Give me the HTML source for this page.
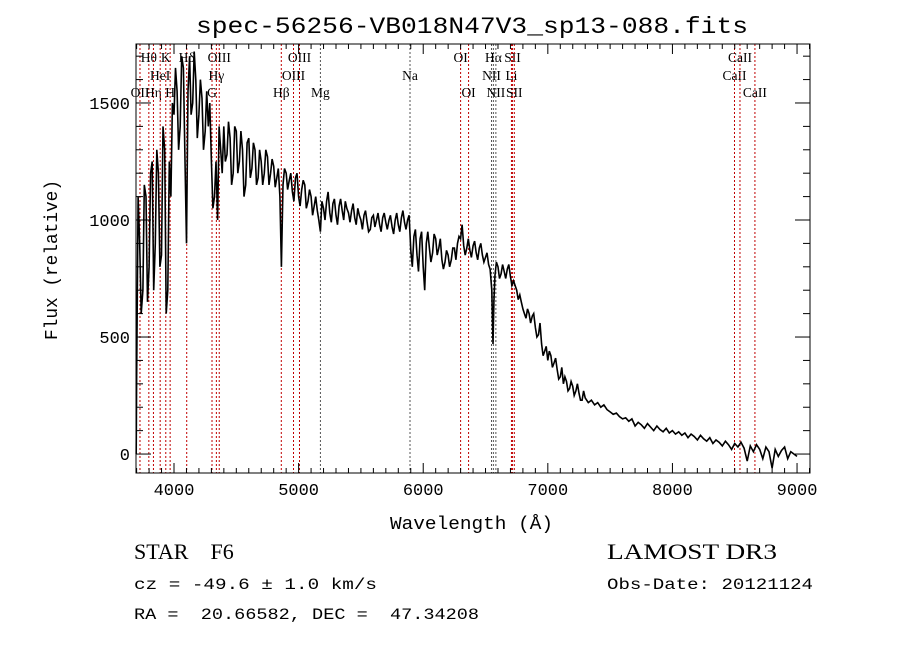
<!DOCTYPE html>
<html><head><meta charset="utf-8"><style>
body{margin:0;background:#fff;}
svg{display:block;}
text{font-family:"Liberation Mono",monospace;fill:#000;white-space:pre;}
.ser{font-family:"Liberation Serif",serif;}
</style></head><body>
<svg id="chart" width="900" height="649" viewBox="0 0 900 649" xmlns="http://www.w3.org/2000/svg" xml:space="preserve">
<rect width="900" height="649" fill="#fff"/>
<text x="196" y="33" font-size="23" textLength="552" lengthAdjust="spacingAndGlyphs">spec-56256-VB018N47V3_sp13-088.fits</text>
<g id="lines"></g>
<g id="series"></g>
<g id="axes"></g>
<text x="390" y="529" font-size="18" textLength="163" lengthAdjust="spacingAndGlyphs">Wavelength (Å)</text>
<text x="0" y="0" transform="translate(57,340) rotate(-90)" font-size="18" textLength="160" lengthAdjust="spacingAndGlyphs">Flux (relative)</text>
<text class="ser" x="134" y="559" font-size="22">STAR    F6</text>
<text x="134" y="589" font-size="16" textLength="243" lengthAdjust="spacingAndGlyphs">cz = -49.6 ± 1.0 km/s</text>
<text x="134" y="619" font-size="16" textLength="345" lengthAdjust="spacingAndGlyphs">RA =  20.66582, DEC =  47.34208</text>
<text class="ser" x="607" y="559" font-size="22" textLength="170" lengthAdjust="spacingAndGlyphs">LAMOST DR3</text>
<text x="607" y="589" font-size="16" textLength="206" lengthAdjust="spacingAndGlyphs">Obs-Date: 20121124</text>
</svg>
<script>
const wavelengths=[3697,3700,3712,3725,3737,3750,3762,3775,3787,3800,3812,3825,3837,3850,3862,3875,3887,3900,3912,3925,3937,3950,3962,3975,3987,4000,4012,4025,4037,4050,4062,4075,4087,4100,4112,4125,4137,4150,4162,4175,4187,4200,4212,4225,4237,4250,4262,4275,4287,4300,4312,4325,4337,4350,4362,4375,4387,4400,4412,4425,4437,4450,4462,4475,4487,4500,4512,4525,4537,4550,4562,4575,4587,4600,4612,4625,4637,4650,4662,4675,4687,4700,4712,4725,4737,4750,4762,4775,4787,4800,4812,4825,4837,4850,4862,4875,4887,4900,4912,4925,4937,4950,4962,4975,4987,5000,5012,5025,5037,5050,5062,5075,5087,5100,5112,5125,5137,5150,5162,5175,5187,5200,5212,5225,5237,5250,5262,5275,5287,5300,5312,5325,5337,5350,5362,5375,5387,5400,5412,5425,5437,5450,5462,5475,5487,5500,5512,5525,5537,5550,5562,5575,5587,5600,5612,5625,5637,5650,5662,5675,5687,5700,5712,5725,5737,5750,5762,5775,5787,5800,5812,5825,5837,5850,5862,5875,5887,5900,5912,5925,5937,5950,5962,5975,5987,6000,6012,6025,6037,6050,6062,6075,6087,6100,6112,6125,6137,6150,6162,6175,6187,6200,6212,6225,6237,6250,6262,6275,6287,6300,6312,6325,6337,6350,6362,6375,6387,6400,6412,6425,6437,6450,6462,6475,6487,6500,6512,6525,6537,6550,6560,6567,6575,6587,6600,6612,6625,6637,6650,6662,6675,6687,6700,6712,6725,6737,6750,6762,6775,6787,6800,6812,6825,6837,6850,6862,6875,6887,6900,6912,6925,6937,6950,6962,6975,6987,7000,7012,7025,7037,7050,7062,7075,7087,7100,7112,7125,7137,7150,7162,7175,7187,7200,7212,7225,7237,7250,7262,7275,7287,7300,7325,7350,7375,7400,7425,7450,7475,7500,7525,7550,7575,7600,7625,7650,7675,7700,7725,7750,7775,7800,7825,7850,7875,7900,7925,7950,7975,8000,8025,8050,8075,8100,8125,8150,8175,8200,8225,8250,8275,8300,8325,8350,8375,8400,8425,8450,8475,8500,8525,8550,8575,8600,8625,8650,8675,8700,8725,8750,8775,8800,8825,8850,8875,8900,8925,8950,8975,9000];
const flux=[0,300,1100,900,600,700,1150,1100,650,800,1200,1250,700,900,1300,1200,800,850,1400,1300,600,700,1250,1100,1500,1450,1650,1550,1300,1400,1700,1650,1300,900,1550,1700,1450,1500,1720,1600,1350,1450,1600,1520,1300,1380,1550,1400,1500,1250,1050,1100,1250,1000,1400,1300,1200,1400,1250,1280,1420,1350,1150,1200,1400,1380,1200,1250,1380,1300,1100,1150,1330,1350,1180,1220,1330,1300,1150,1180,1300,1250,1150,1200,1300,1270,1150,1200,1260,1230,1140,1180,1220,1100,800,1150,1220,1200,1130,1170,1200,1120,1080,1180,1200,1100,1060,1130,1170,1150,1050,1080,1130,1100,1020,1060,1100,1040,1000,950,1080,1050,1000,1080,1120,1030,990,1070,1090,1020,980,1060,1090,1040,1000,1080,1050,1030,990,1040,1070,1010,980,1050,1020,1000,960,1020,1040,990,950,960,1010,1020,970,1000,1030,980,950,1010,1030,990,960,1000,1020,970,940,1000,1030,980,950,1010,1040,990,960,1000,1020,870,800,930,960,850,780,920,950,800,700,900,950,880,820,860,940,920,850,880,920,830,790,820,870,850,800,830,880,880,830,900,930,920,980,890,850,880,920,870,840,890,910,860,830,880,900,850,820,840,860,810,790,700,470,650,760,820,800,750,770,810,780,750,790,810,760,720,740,720,700,660,680,650,620,600,580,620,600,560,590,600,540,500,510,560,470,420,440,460,400,440,420,370,390,410,360,320,330,370,300,330,310,270,280,310,290,250,270,300,260,230,230,270,240,220,230,210,220,200,210,190,180,170,175,160,150,155,140,150,120,135,125,110,130,115,100,120,105,95,110,90,100,85,95,80,90,70,85,75,60,80,65,55,70,45,60,50,35,55,40,20,45,30,50,25,-30,35,10,40,20,-20,30,10,-60,20,-10,15,30,-20,10,0,-10,5];
const lineWaves=[3727,3798,3835,3889,3934,3969,4102,4305,4340,4363,4861,4959,5007,5175,5894,6300,6364,6548,6563,6583,6708,6716,6731,8498,8542,8662];
const lineLabels=["OII","Hθ","Hη","HeI","K","H","Hδ","G","Hγ","OIII","Hβ","OIII","OIII","Mg","Na","OI","OI","NII","Hα","NII","Li","SII","SII","CaII","CaII","CaII"];
const lineRows=[3,1,3,2,1,3,1,3,2,1,3,2,1,3,2,1,3,2,1,3,2,1,3,2,1,3];
const xTicks=[4000,5000,6000,7000,8000,9000];
const yTicks=[0,500,1000,1500];
const X0=136,X1=810,Y0=44,Y1=473;
const WMIN=3695,WMAX=9104,FMIN=-81,FMAX=1752;
const xs=w=>X0+(w-WMIN)/(WMAX-WMIN)*(X1-X0);
const ys=f=>Y1-(f-FMIN)/(FMAX-FMIN)*(Y1-Y0);
const NS="http://www.w3.org/2000/svg";
function mk(tag,attrs,parent){const e=document.createElementNS(NS,tag);for(const k in attrs)e.setAttribute(k,attrs[k]);parent.appendChild(e);return e;}
const gL=document.getElementById('lines'),gS=document.getElementById('series'),gA=document.getElementById('axes');
const blackSet=[5175,5894,6548,6563,6583];
lineWaves.forEach((w,i)=>{
  const x=xs(w);
  const l=mk('line',{x1:x,x2:x,y1:Y0,y2:Y1,stroke:blackSet.includes(w)?'#555':'#c00000','stroke-width':1,'stroke-dasharray':'2,2'},gL);
  
  
  const t=mk('text',{x:x,y:[0,62,80,97][lineRows[i]],'text-anchor':'middle','font-size':13.5,class:'ser'},gL);
  t.textContent=lineLabels[i];
  
  
});
const pts=wavelengths.map((w,i)=>xs(w).toFixed(1)+','+ys(flux[i]).toFixed(1)).join(' ');
const pl=mk('polyline',{points:pts,fill:'none',stroke:'#000','stroke-width':1.6,'stroke-linejoin':'miter'},gS);


const fr=mk('rect',{x:X0,y:Y0,width:X1-X0,height:Y1-Y0,fill:'none',stroke:'#000','stroke-width':1},gA);


for(let w=3700;w<=9100;w+=100){const x=xs(w);const maj=w%1000===0;const L=maj?10:5;
  mk('line',{x1:x,x2:x,y1:Y1,y2:Y1-L,stroke:'#000'},gA);mk('line',{x1:x,x2:x,y1:Y0,y2:Y0+L,stroke:'#000'},gA);}
xTicks.forEach(w=>{const t=mk('text',{x:xs(w),y:Y1+22,'text-anchor':'middle','font-size':17},gA);t.textContent=w;
  
  });
for(let f=0;f<=1700;f+=100){const y=ys(f);const maj=f%500===0;const L=maj?15:7;
  mk('line',{x1:X0,x2:X0+L,y1:y,y2:y,stroke:'#000'},gA);mk('line',{x1:X1,x2:X1-L,y1:y,y2:y,stroke:'#000'},gA);}
yTicks.forEach(f=>{const t=mk('text',{x:X0-6,y:ys(f)+6,'text-anchor':'end','font-size':17},gA);t.textContent=f;
  
  });
</script>
</body></html>
